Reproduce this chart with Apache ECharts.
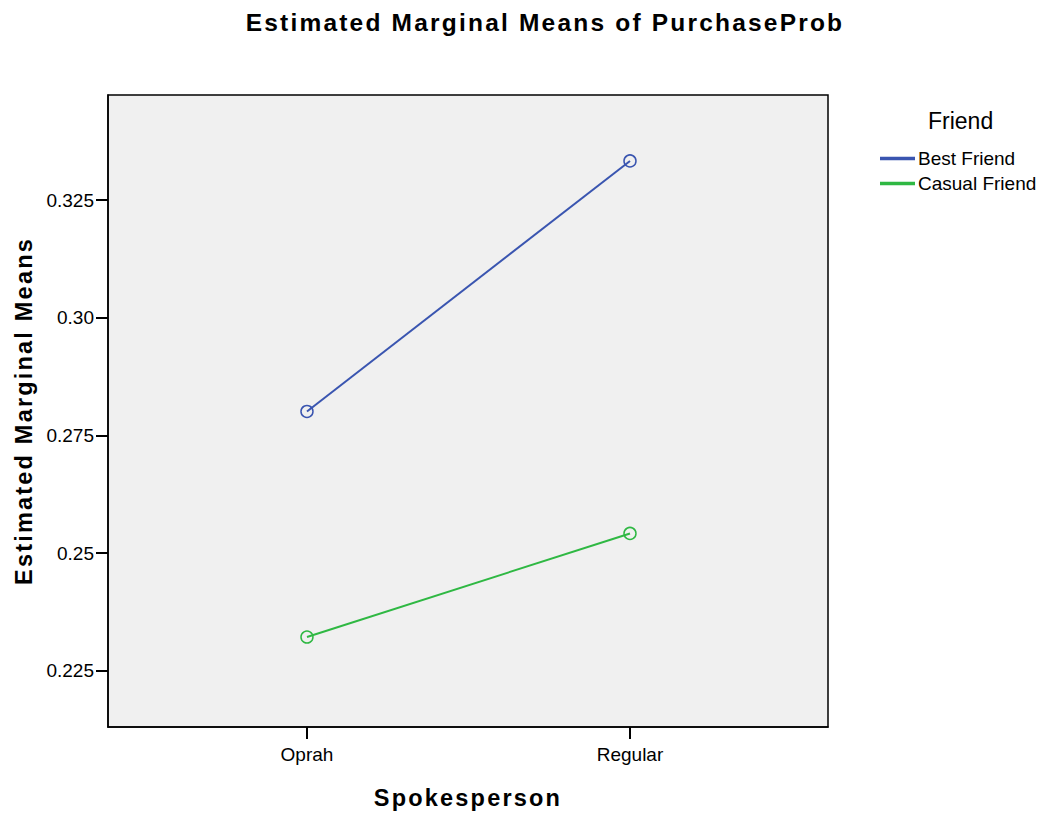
<!DOCTYPE html>
<html>
<head>
<meta charset="utf-8">
<script src="https://cdn.jsdelivr.net/npm/echarts@6/dist/echarts.min.js"></script>
<style>
  html, body { margin: 0; padding: 0; background: #fff; }
  #main { width: 1050px; height: 817px; }
  /* the bold headings in the original are tracked wider than plain Arial */
  #main text[style*="bold"] { letter-spacing: 2.2px; }
</style>
</head>
<body>
<div id="main"></div>
<script>
var spokespersons = ['Oprah', 'Regular'];
var bestFriend = [0.2801, 0.3333];
var casualFriend = [0.2322, 0.2542];
var yTicks = [0.225, 0.25, 0.275, 0.30, 0.325];
var yTickLabels = ['0.225', '0.25', '0.275', '0.30', '0.325'];
var blue = '#3a55b0';
var green = '#2fb843';

var chart = echarts.init(document.getElementById('main'), null, { renderer: 'svg' });

function toPoints(vals) {
  return vals.map(function (v, i) { return [i, v]; });
}

var font = 'Liberation Sans, Arial, sans-serif';

var option = {
  animation: false,
  textStyle: { fontFamily: font },
  title: {
    text: 'Estimated Marginal Means of PurchaseProb',
    left: 540,
    top: 5,
    textAlign: 'center',
    textStyle: { fontSize: 24.5, fontWeight: 'bold', color: '#000', fontFamily: font }
  },
  graphic: [{
    type: 'text',
    left: 928,
    top: 109,
    style: { text: 'Friend', fontSize: 23, fill: '#000', fontFamily: font }
  }],
  legend: {
    orient: 'vertical',
    left: 875,
    top: 144,
    icon: 'rect',
    itemWidth: 33,
    itemHeight: 1.5,
    itemGap: 6,
    textStyle: { fontSize: 19, color: '#000', fontFamily: font, padding: [0, 0, 0, -1] },
    data: [
      { name: 'Best Friend', itemStyle: { color: blue } },
      { name: 'Casual Friend', itemStyle: { color: green } }
    ]
  },
  grid: {
    left: 108,
    right: 222,
    top: 95,
    bottom: 90,
    show: true,
    backgroundColor: '#f0f0f0',
    borderColor: '#000',
    borderWidth: 1.5
  },
  xAxis: {
    type: 'value',
    min: -0.616,
    max: 1.613,
    name: 'Spokesperson',
    nameLocation: 'middle',
    nameGap: 59,
    nameTextStyle: { fontSize: 23.5, fontWeight: 'bold', color: '#000', fontFamily: font },
    axisLine: { show: true, onZero: false, lineStyle: { color: '#000', width: 1.5 } },
    axisTick: { show: true, customValues: [0, 1], length: 12, lineStyle: { color: '#000', width: 2 } },
    axisLabel: {
      customValues: [0, 1],
      fontSize: 19,
      color: '#000',
      margin: 18,
      formatter: function (v) { return spokespersons[Math.round(v)]; }
    },
    splitLine: { show: false }
  },
  yAxis: {
    type: 'value',
    min: 0.2131,
    max: 0.3473,
    name: 'Estimated Marginal Means',
    nameLocation: 'middle',
    nameGap: 72,
    nameTextStyle: { fontSize: 23.5, fontWeight: 'bold', color: '#000', fontFamily: font },
    axisLine: { show: true, onZero: false, lineStyle: { color: '#000', width: 1.5 } },
    axisTick: { show: true, customValues: yTicks, length: 12, lineStyle: { color: '#000', width: 2 } },
    axisLabel: {
      customValues: yTicks,
      fontSize: 19,
      color: '#000',
      margin: 14,
      formatter: function (v) {
        var i = yTicks.findIndex(function (t) { return Math.abs(t - v) < 1e-6; });
        return i >= 0 ? yTickLabels[i] : '';
      }
    },
    splitLine: { show: false }
  },
  series: [
    {
      name: 'Best Friend',
      type: 'line',
      data: toPoints(bestFriend),
      color: blue,
      symbol: 'circle',
      symbolSize: 12,
      lineStyle: { width: 2, color: blue },
      itemStyle: { color: 'rgba(0,0,0,0)', borderColor: blue, borderWidth: 1.5 }
    },
    {
      name: 'Casual Friend',
      type: 'line',
      data: toPoints(casualFriend),
      color: green,
      symbol: 'circle',
      symbolSize: 12,
      lineStyle: { width: 2, color: green },
      itemStyle: { color: 'rgba(0,0,0,0)', borderColor: green, borderWidth: 1.5 }
    }
  ]
};

chart.setOption(option);
</script>
</body>
</html>
